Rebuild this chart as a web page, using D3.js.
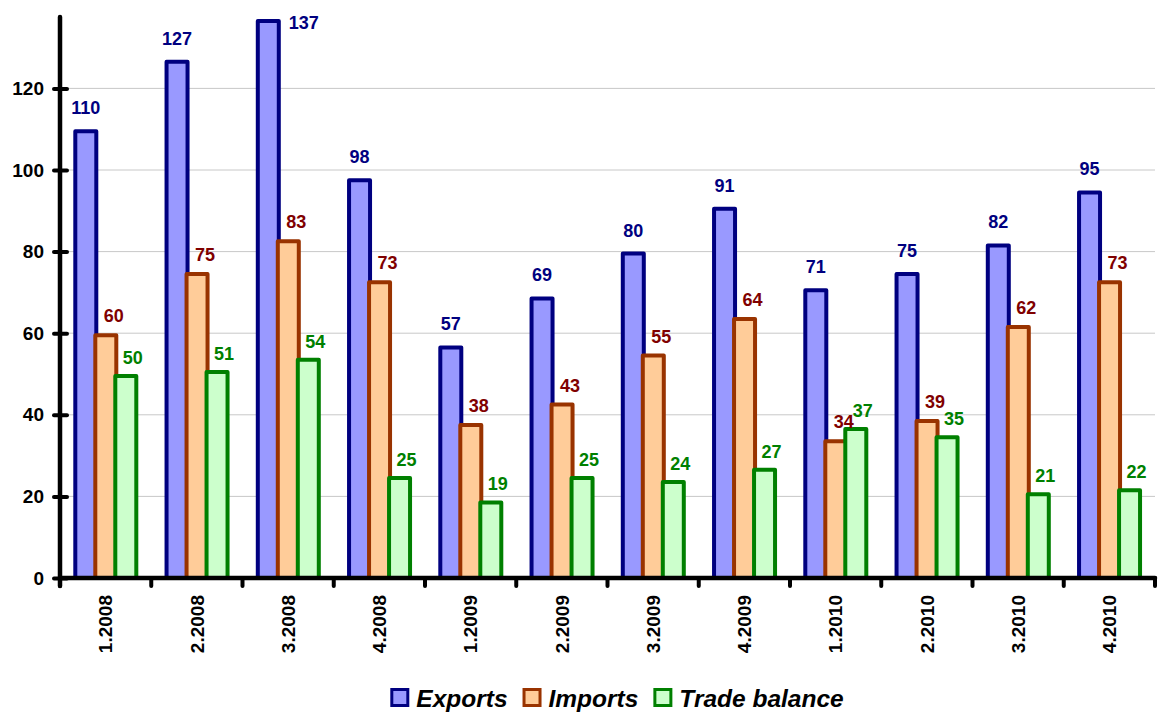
<!DOCTYPE html>
<html>
<head>
<meta charset="utf-8">
<script src="https://cdn.jsdelivr.net/npm/d3@7"></script>
<style>
  html, body { margin: 0; padding: 0; background: #fff; }
  svg { display: block; font-family: "Liberation Sans", Arial, sans-serif; }
</style>
</head>
<body>
<svg id="chart" width="1159" height="713"></svg>
<script>
// Quarterly foreign trade, 2008–2010
const categories = ["1.2008", "2.2008", "3.2008", "4.2008", "1.2009", "2.2009",
                    "3.2009", "4.2009", "1.2010", "2.2010", "3.2010", "4.2010"];
const seriesNames = ["Exports", "Imports", "Trade balance"];
const exportsValues = [110, 127, 137, 98, 57, 69, 80, 91, 71, 75, 82, 95];
const importsValues = [60, 75, 83, 73, 38, 43, 55, 64, 34, 39, 62, 73];
const balanceValues = [50, 51, 54, 25, 19, 25, 24, 27, 37, 35, 21, 22];
const yTickValues = [0, 20, 40, 60, 80, 100, 120];

const seriesValues = [exportsValues, importsValues, balanceValues];
const fills = ["#9999FF", "#FFCC99", "#CCFFCC"];
const strokes = ["#000080", "#993300", "#008000"];
const labelColors = ["#000080", "#800000", "#008000"];
// label offsets per series (dx, dy from bar top)
const labelShift = [[0, -15], [8, -11], [7, -10]];

const svg = d3.select("#chart");
const plotLeft = 60, plotRight = 1155, plotBottom = 578, plotTop = 17;

const x = d3.scaleBand().domain(categories).range([plotLeft, plotRight]);
const xInner = d3.scaleBand().domain(seriesNames).range([13.3, 73.3]);
const y = d3.scaleLinear().domain([0, 137.5]).range([plotBottom, plotTop]);

// gridlines
svg.append("g").selectAll("line")
  .data(yTickValues.filter(v => v > 0))
  .join("line")
  .attr("x1", plotLeft).attr("x2", plotRight)
  .attr("y1", d => y(d)).attr("y2", d => y(d))
  .attr("stroke", "#c8c8c8").attr("stroke-width", 1);

// bars
const sw = 4;
seriesNames.forEach((s, si) => {
  svg.append("g").selectAll("rect")
    .data(categories.map((c, i) => ({ c, v: seriesValues[si][i] })))
    .join("rect")
    .attr("x", d => x(d.c) + xInner(s) + sw / 2)
    .attr("width", xInner.bandwidth() + 5 - sw)
    .attr("y", d => y(d.v) + sw / 2)
    .attr("height", d => y(0) - y(d.v) - sw / 2)
    .attr("fill", fills[si])
    .attr("stroke", strokes[si])
    .attr("stroke-width", sw)
    .attr("stroke-linejoin", "round");
});

// y axis
const yAxis = svg.append("g")
  .attr("transform", `translate(${plotLeft},0)`)
  .call(d3.axisLeft(y).tickValues(yTickValues).tickSize(0).tickPadding(16));
yAxis.select(".domain").remove();
yAxis.selectAll(".tick line")
  .attr("x1", -6).attr("x2", 7)
  .attr("stroke", "#000").attr("stroke-width", 4).attr("stroke-linecap", "round");
yAxis.selectAll(".tick text")
  .attr("font-size", 19).attr("font-weight", "bold").attr("fill", "#000")
  .attr("font-family", "Liberation Sans, Arial, sans-serif");

// x axis
const xAxis = svg.append("g")
  .attr("transform", `translate(0,${plotBottom})`)
  .call(d3.axisBottom(x).tickSize(0));
xAxis.select(".domain").remove();
xAxis.selectAll(".tick text")
  .attr("transform", "rotate(-90)")
  .attr("x", -17).attr("y", 0).attr("dy", "0.36em")
  .attr("text-anchor", "end")
  .attr("font-size", 19).attr("font-weight", "bold").attr("fill", "#000")
  .attr("font-family", "Liberation Sans, Arial, sans-serif");

// category boundary ticks
const bounds = categories.map(c => x(c)).concat([x.range()[1]]);
svg.append("g").selectAll("line")
  .data(bounds)
  .join("line")
  .attr("x1", d => d).attr("x2", d => d)
  .attr("y1", plotBottom).attr("y2", plotBottom + 8)
  .attr("stroke", "#000").attr("stroke-width", 4).attr("stroke-linecap", "round");

// axis lines
svg.append("line")
  .attr("x1", plotLeft).attr("x2", plotLeft).attr("y1", plotTop).attr("y2", plotBottom + 8)
  .attr("stroke", "#000").attr("stroke-width", 4.5).attr("stroke-linecap", "round");
svg.append("line")
  .attr("x1", plotLeft).attr("x2", plotRight).attr("y1", plotBottom).attr("y2", plotBottom)
  .attr("stroke", "#000").attr("stroke-width", 4.5).attr("stroke-linecap", "round");

// value labels
seriesNames.forEach((s, si) => {
  svg.append("g").selectAll("text")
    .data(categories.map((c, i) => ({ c, v: seriesValues[si][i] })))
    .join("text")
    .each(function (d) {
      const cx = x(d.c) + xInner(s) + (xInner.bandwidth() + 5) / 2;
      const baseY = y(d.v) + labelShift[si][1];
      const t = d3.select(this);
      if (baseY - 14 < 4) {
        // no room above: put the label beside the bar
        t.attr("x", x(d.c) + xInner(s) + xInner.bandwidth() + 5 + 8)
         .attr("y", y(d.v) + 10)
         .attr("text-anchor", "start");
      } else {
        t.attr("x", cx + labelShift[si][0])
         .attr("y", baseY)
         .attr("text-anchor", "middle");
      }
    })
    .attr("font-size", 18).attr("font-weight", "bold")
    .attr("fill", labelColors[si])
    .text(d => d.v);
});

// legend
const legend = svg.append("g");
let lx = 0;
seriesNames.forEach((s, si) => {
  const g = legend.append("g").attr("transform", `translate(${lx},0)`);
  g.append("rect")
    .attr("x", 1.5).attr("y", 689.5).attr("width", 16).attr("height", 16)
    .attr("fill", fills[si]).attr("stroke", strokes[si]).attr("stroke-width", 3);
  const t = g.append("text")
    .attr("x", 26).attr("y", 706.5)
    .attr("font-size", 24.5).attr("font-weight", "bold").attr("font-style", "italic")
    .attr("fill", "#000")
    .text(s);
  lx += 26 + t.node().getComputedTextLength() + 15;
});
const legendWidth = lx - 15;
legend.attr("transform", `translate(${617 - legendWidth / 2},0)`);
</script>
</body>
</html>
